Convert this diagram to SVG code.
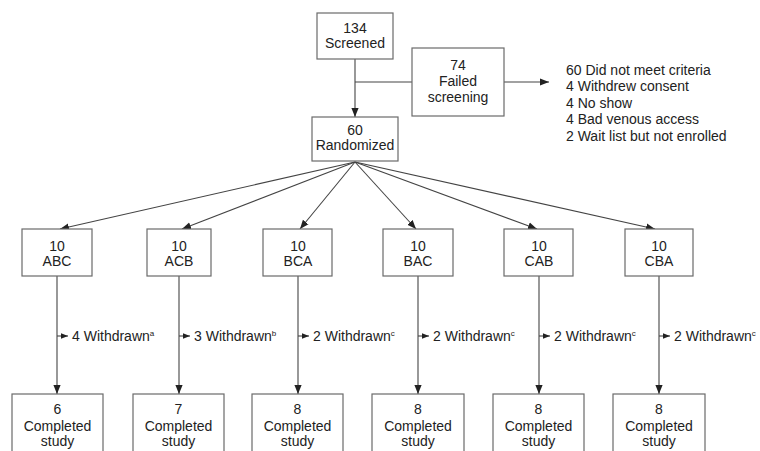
<svg xmlns="http://www.w3.org/2000/svg" width="760" height="451" viewBox="0 0 760 451">
<defs>
<style>
.box{fill:#fff;stroke:#6a6a6a;stroke-width:1.2}
.ln{fill:none;stroke:#444;stroke-width:1.1}
text{font-family:"Liberation Sans",Arial,sans-serif;font-size:14px;fill:#222}
.c{text-anchor:middle}
.sup{font-size:8px}
</style>
<marker id="ah" viewBox="0 0 10 10" refX="10" refY="5" markerWidth="9" markerHeight="9" markerUnits="userSpaceOnUse" orient="auto"><path d="M0,1 L10,5 L0,9 z" fill="#222"/></marker>
<marker id="ahs" viewBox="0 0 10 10" refX="10" refY="5" markerWidth="7" markerHeight="7" markerUnits="userSpaceOnUse" orient="auto"><path d="M0,1 L10,5 L0,9 z" fill="#222"/></marker>
</defs>
<rect width="760" height="451" fill="#fff"/>
<g id="connectors">
<line class="ln" x1="355" y1="59" x2="355" y2="117" marker-end="url(#ah)"/>
<line class="ln" x1="355" y1="82" x2="412" y2="82"/>
<line class="ln" x1="504" y1="82" x2="549" y2="82" marker-end="url(#ah)"/>
<line class="ln" x1="355" y1="162" x2="60" y2="229" marker-end="url(#ah)"/>
<line class="ln" x1="355" y1="162" x2="182" y2="229" marker-end="url(#ah)"/>
<line class="ln" x1="355" y1="162" x2="300" y2="229" marker-end="url(#ah)"/>
<line class="ln" x1="355" y1="162" x2="416" y2="229" marker-end="url(#ah)"/>
<line class="ln" x1="355" y1="162" x2="537" y2="229" marker-end="url(#ah)"/>
<line class="ln" x1="355" y1="162" x2="655" y2="229" marker-end="url(#ah)"/>
<line class="ln" x1="57" y1="276" x2="57" y2="394" marker-end="url(#ah)"/>
<line class="ln" x1="179" y1="276" x2="179" y2="394" marker-end="url(#ah)"/>
<line class="ln" x1="298" y1="276" x2="298" y2="394" marker-end="url(#ah)"/>
<line class="ln" x1="418" y1="276" x2="418" y2="394" marker-end="url(#ah)"/>
<line class="ln" x1="539" y1="276" x2="539" y2="394" marker-end="url(#ah)"/>
<line class="ln" x1="659" y1="276" x2="659" y2="394" marker-end="url(#ah)"/>
<line class="ln" x1="57" y1="336" x2="68" y2="336" marker-end="url(#ahs)"/>
<line class="ln" x1="179" y1="336" x2="190" y2="336" marker-end="url(#ahs)"/>
<line class="ln" x1="298" y1="336" x2="309" y2="336" marker-end="url(#ahs)"/>
<line class="ln" x1="418" y1="336" x2="429" y2="336" marker-end="url(#ahs)"/>
<line class="ln" x1="539" y1="336" x2="550" y2="336" marker-end="url(#ahs)"/>
<line class="ln" x1="659" y1="336" x2="670" y2="336" marker-end="url(#ahs)"/>
</g>
<g id="screened"><rect class="box" x="317" y="13" width="76" height="46"/><text class="c" x="355" y="33">134</text><text class="c" x="355" y="48">Screened</text></g>
<g id="failed"><rect class="box" x="412" y="48" width="92" height="68"/><text class="c" x="458" y="70">74</text><text class="c" x="458" y="86">Failed</text><text class="c" x="458" y="102">screening</text></g>
<g id="reasons"><text x="566" y="75">60 Did not meet criteria</text><text x="566" y="91">4 Withdrew consent</text><text x="566" y="108">4 No show</text><text x="566" y="124">4 Bad venous access</text><text x="566" y="141">2 Wait list but not enrolled</text></g>
<g id="randomized"><rect class="box" x="312" y="117" width="86" height="44"/><text class="c" x="355" y="135">60</text><text class="c" x="355" y="150">Randomized</text></g>
<g id="abc"><rect class="box" x="22" y="229" width="70" height="47"/><text class="c" x="57" y="251">10</text><text class="c" x="57" y="266">ABC</text></g>
<g id="acb"><rect class="box" x="147" y="229" width="64" height="47"/><text class="c" x="179" y="251">10</text><text class="c" x="179" y="266">ACB</text></g>
<g id="bca"><rect class="box" x="263" y="229" width="69" height="47"/><text class="c" x="298" y="251">10</text><text class="c" x="298" y="266">BCA</text></g>
<g id="bac"><rect class="box" x="383" y="229" width="70" height="47"/><text class="c" x="418" y="251">10</text><text class="c" x="418" y="266">BAC</text></g>
<g id="cab"><rect class="box" x="504" y="229" width="69" height="47"/><text class="c" x="539" y="251">10</text><text class="c" x="539" y="266">CAB</text></g>
<g id="cba"><rect class="box" x="625" y="229" width="68" height="47"/><text class="c" x="659" y="251">10</text><text class="c" x="659" y="266">CBA</text></g>
<g id="withdrawn">
<text x="72" y="341">4 Withdrawn<tspan class="sup" dy="-5">a</tspan></text>
<text x="194" y="341">3 Withdrawn<tspan class="sup" dy="-5">b</tspan></text>
<text x="313" y="341">2 Withdrawn<tspan class="sup" dy="-5">c</tspan></text>
<text x="433" y="341">2 Withdrawn<tspan class="sup" dy="-5">c</tspan></text>
<text x="554" y="341">2 Withdrawn<tspan class="sup" dy="-5">c</tspan></text>
<text x="674" y="341">2 Withdrawn<tspan class="sup" dy="-5">c</tspan></text>
</g>
<g id="done-abc"><rect class="box" x="12" y="394" width="91" height="66"/><text class="c" x="57.5" y="414">6</text><text class="c" x="57.5" y="431">Completed</text><text class="c" x="57.5" y="446">study</text></g>
<g id="done-acb"><rect class="box" x="133" y="394" width="91" height="66"/><text class="c" x="178.5" y="414">7</text><text class="c" x="178.5" y="431">Completed</text><text class="c" x="178.5" y="446">study</text></g>
<g id="done-bca"><rect class="box" x="252" y="394" width="91" height="66"/><text class="c" x="297.5" y="414">8</text><text class="c" x="297.5" y="431">Completed</text><text class="c" x="297.5" y="446">study</text></g>
<g id="done-bac"><rect class="box" x="372" y="394" width="92" height="66"/><text class="c" x="418" y="414">8</text><text class="c" x="418" y="431">Completed</text><text class="c" x="418" y="446">study</text></g>
<g id="done-cab"><rect class="box" x="493" y="394" width="91" height="66"/><text class="c" x="538.5" y="414">8</text><text class="c" x="538.5" y="431">Completed</text><text class="c" x="538.5" y="446">study</text></g>
<g id="done-cba"><rect class="box" x="613" y="394" width="92" height="66"/><text class="c" x="659" y="414">8</text><text class="c" x="659" y="431">Completed</text><text class="c" x="659" y="446">study</text></g>
</svg>
